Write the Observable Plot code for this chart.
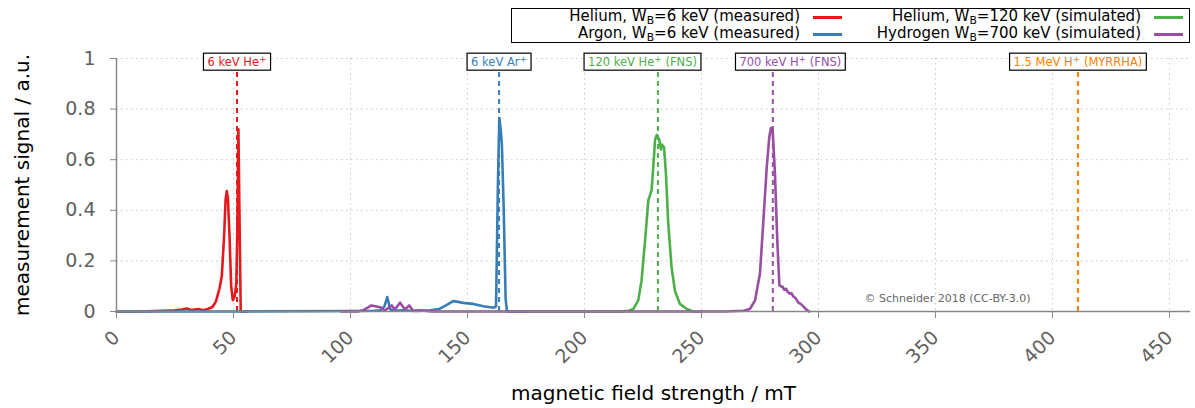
<!DOCTYPE html>
<html><head><meta charset="utf-8">
<script src="https://cdn.jsdelivr.net/npm/d3@7"></script>
<script src="https://cdn.jsdelivr.net/npm/@observablehq/plot@0.6"></script>
<style>
body{margin:0;background:#fff;font-family:"DejaVu Sans",sans-serif;}
#wrap{position:relative;width:1195px;height:408px;}
#legendBox{position:absolute;left:511px;top:8px;width:679px;height:35px;box-sizing:border-box;border:1px solid #000;background:#fff;}
.lt{position:absolute;font-size:15px;line-height:17px;white-space:nowrap;color:#000;text-align:right;}
.lt sub{font-size:0.72em;vertical-align:-0.3em;line-height:0;}
.ll{position:absolute;height:3px;}
</style>
</head><body>
<div id="wrap"><div id="legendBox"></div></div>
<script>
// ---- data ----
const heMeasX = [0, 10, 20, 25, 28, 30, 32, 35, 37, 39, 41, 42.5, 44, 45, 46, 46.6, 47.1, 47.6, 48.3, 49, 49.7, 50.5, 51.2, 51.6, 52.1, 52.6, 53.1, 56];
const heMeasY = [0, 0, 0.003, 0.005, 0.008, 0.012, 0.006, 0.01, 0.005, 0.01, 0.018, 0.04, 0.09, 0.14, 0.3, 0.44, 0.476, 0.45, 0.3, 0.1, 0.045, 0.06, 0.11, 0.3, 0.72, 0.35, 0, 0];

const arMeasX = [0, 50, 100, 110, 113, 114.5, 115.7, 117, 119, 122, 128, 134, 138, 141, 143.9, 146, 148.2, 152.5, 156.8, 161.3, 162.2, 163.0, 163.6, 164.2, 164.7, 165.5, 166.3, 166.9, 175];
const arMeasY = [0, 0, 0.002, 0.003, 0.005, 0.02, 0.057, 0.008, 0.003, 0.005, 0.002, 0.005, 0.01, 0.025, 0.041, 0.038, 0.034, 0.03, 0.021, 0.015, 0.02, 0.5, 0.765, 0.72, 0.66, 0.4, 0.05, 0, 0];

const he120X = [170, 215, 219, 220.9, 223, 224.4, 225.9, 227.3, 228.7, 229.4, 230.2, 230.9, 231.9, 232.7, 233.1, 233.4, 234, 234.8, 235.8, 237.2, 238.7, 240.8, 243.7, 246.4, 250];
const he120Y = [0, 0, 0.003, 0.01, 0.044, 0.123, 0.28, 0.44, 0.48, 0.573, 0.68, 0.698, 0.68, 0.64, 0.66, 0.655, 0.65, 0.547, 0.35, 0.176, 0.08, 0.03, 0.01, 0, 0];

const h700X = [96, 103, 105.5, 109, 112.6, 114.7, 117.6, 119, 121.2, 123.3, 125.1, 126.8, 129.7, 135, 200, 260, 268, 270.7, 272.9, 275, 276.4, 277.9, 279, 279.7, 280.4, 281.4, 282.4, 283.3, 284, 284.7, 285.4, 286.1, 286.8, 287.8, 288.5, 289.2, 290.3, 291.4, 292.4, 293.5, 294.6, 295.6, 296];
const h700Y = [0, 0, 0.005, 0.024, 0.017, 0.004, 0.024, 0.008, 0.035, 0.008, 0.024, 0.003, 0.005, 0, 0, 0, 0.003, 0.01, 0.044, 0.15, 0.35, 0.57, 0.69, 0.725, 0.72, 0.547, 0.28, 0.103, 0.1, 0.097, 0.085, 0.09, 0.078, 0.07, 0.072, 0.06, 0.052, 0.035, 0.03, 0.02, 0.01, 0.002, 0];

const seriesNames = ["Helium, W<sub>B</sub>=6 keV (measured)", "Helium, W<sub>B</sub>=120 keV (simulated)", "Argon, W<sub>B</sub>=6 keV (measured)", "Hydrogen W<sub>B</sub>=700 keV (simulated)"];
const seriesColors = ["#e41a1c", "#4daf4a", "#377eb8", "#984ea3"];

const annoX = [51.5, 163.5, 231.4, 280.5, 410.9];
const annoLabelX = [51.5, 163.5, 224.8, 288.0, 410.9];
const annoLabels = ["6 keV He⁺", "6 keV Ar⁺", "120 keV He⁺ (FNS)", "700 keV H⁺ (FNS)", "1.5 MeV H⁺ (MYRRHA)"];
const annoColors = ["#e41a1c", "#377eb8", "#4daf4a", "#984ea3", "#ff7f00"];

const xTicks = [0, 50, 100, 150, 200, 250, 300, 350, 400, 450];
const yTicks = [0, 0.2, 0.4, 0.6, 0.8, 1];
const xTitle = "magnetic field strength / mT";
const yTitle = "measurement signal / a.u.";
const credit = "© Schneider 2018 (CC-BY-3.0)";

// ---- build ----
const pts = (xs, ys) => xs.map((x, i) => ({x, y: ys[i]}));
const series = [pts(heMeasX, heMeasY), pts(he120X, he120Y), pts(arMeasX, arMeasY), pts(h700X, h700Y)];
const annos = annoX.map((x, i) => ({x, lx: annoLabelX[i], label: annoLabels[i], color: annoColors[i]}));

const gridStyle = {stroke: "#c8c8c8", strokeOpacity: 1, strokeDasharray: "1.5,3.5", strokeWidth: 1};

const plot = Plot.plot({
  width: 1195, height: 408,
  marginLeft: 116, marginRight: 5, marginTop: 58, marginBottom: 97,
  style: {fontFamily: "DejaVu Sans", background: "transparent"},
  x: {domain: [0, 459]},
  y: {domain: [0, 1]},
  color: {type: "identity"},
  marks: [
    Plot.gridX(xTicks.filter(d => d > 0), gridStyle),
    Plot.gridY(yTicks.filter(d => d > 0), gridStyle),
    Plot.ruleX(annos, {x: "x", y1: 0, y2: 0.95, stroke: "color", strokeWidth: 2, strokeDasharray: "5,4"}),
    ...series.map((d, i) => Plot.line(d, {x: "x", y: "y", stroke: seriesColors[i], strokeWidth: 2.6, strokeLinejoin: "round"})),
    Plot.ruleY([0], {stroke: "#888", strokeWidth: 1.5}),
    Plot.ruleX([0], {stroke: "#888", strokeWidth: 1.5}),
    Plot.axisX({ticks: xTicks, tickSize: 7, tickPadding: 16, tickRotate: -45, fontSize: 19, stroke: "#888", fill: "#606060", label: null, tickFormat: d => String(d)}),
    Plot.axisY({ticks: yTicks, tickSize: 6, tickPadding: 15, fontSize: 19, stroke: "#888", fill: "#606060", label: null, tickFormat: d => String(d)}),
    Plot.text([xTitle], {frameAnchor: "bottom", dy: 82, lineAnchor: "middle", textAnchor: "middle", fontSize: 20, fill: "#000"}),
    Plot.text([yTitle], {frameAnchor: "left", dx: -94, rotate: -90, textAnchor: "middle", lineAnchor: "middle", fontSize: 20, fill: "#000"}),
    Plot.text([credit], {frameAnchor: "bottom-right", dx: -160, dy: -13, textAnchor: "end", lineAnchor: "middle", fontSize: 11, fill: "#666"}),
    Plot.text(annos, {x: "lx", y: 1, dy: 4, text: "label", fill: "color", fontSize: 11.5, lineAnchor: "middle"})
  ]
});
document.getElementById("wrap").prepend(plot);

// superscript "+" and boxes behind annotation labels
const NS = "http://www.w3.org/2000/svg";
Array.from(plot.querySelectorAll("text")).filter(t => annoLabels.includes(t.textContent)).forEach(t => {
  const parts = t.textContent.split("⁺");
  t.textContent = "";
  t.appendChild(document.createTextNode(parts[0]));
  const sup = document.createElementNS(NS, "tspan");
  sup.setAttribute("dy", "-4"); sup.setAttribute("font-size", "9");
  sup.textContent = "+";
  t.appendChild(sup);
  if (parts[1]) {
    const rest = document.createElementNS(NS, "tspan");
    rest.setAttribute("dy", "4");
    rest.textContent = parts[1];
    t.appendChild(rest);
  }
  const b = t.getBBox();
  const r = document.createElementNS(NS, "rect");
  r.setAttribute("x", b.x - 4); r.setAttribute("y", b.y - 1);
  r.setAttribute("width", b.width + 8); r.setAttribute("height", b.height + 2);
  r.setAttribute("fill", "#fff"); r.setAttribute("stroke", "#000"); r.setAttribute("stroke-width", 1.2);
  const tr = t.getAttribute("transform");
  if (tr) r.setAttribute("transform", tr);
  t.parentNode.insertBefore(r, t);
});

// legend
const wrap = document.getElementById("wrap");
const colTextRight = [800, 1141], colLine = [813, 1154], rowY = [17, 34];
seriesNames.forEach((name, i) => {
  const col = i % 2, row = Math.floor(i / 2);
  const t = document.createElement("div");
  t.className = "lt"; t.innerHTML = name;
  t.style.right = (1195 - colTextRight[col]) + "px";
  t.style.top = (rowY[row] - 9) + "px";
  wrap.appendChild(t);
  const l = document.createElement("div");
  l.className = "ll"; l.style.background = seriesColors[i];
  l.style.left = colLine[col] + "px"; l.style.width = "29px";
  l.style.top = (rowY[row] - 1.5) + "px";
  wrap.appendChild(l);
});
</script>
</body></html>
